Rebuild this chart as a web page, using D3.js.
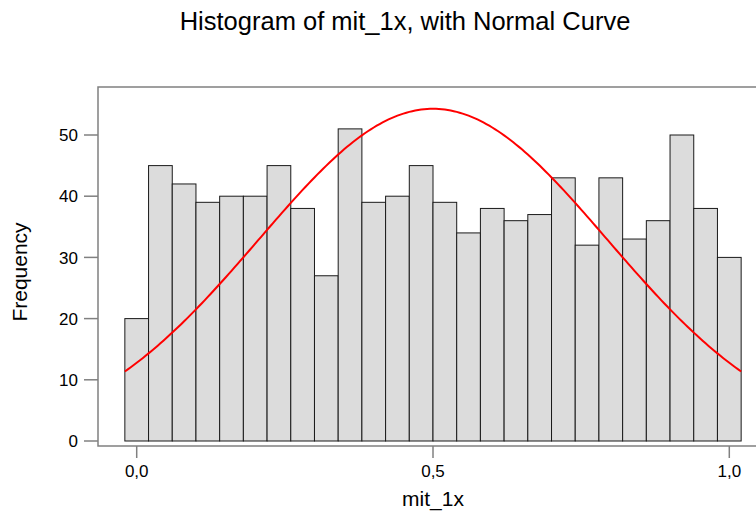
<!DOCTYPE html>
<html>
<head>
<meta charset="utf-8">
<script src="https://cdn.jsdelivr.net/npm/d3@7"></script>
<style>
  body { margin: 0; background: #fff; }
  text { font-family: "Liberation Sans", Arial, sans-serif; fill: #000; }
</style>
</head>
<body>
<div id="chart"></div>
<script>
// histogram bins (bin centres) and counts
var binCenters = [0.00, 0.04, 0.08, 0.12, 0.16, 0.20, 0.24, 0.28, 0.32, 0.36, 0.40, 0.44, 0.48,
                  0.52, 0.56, 0.60, 0.64, 0.68, 0.72, 0.76, 0.80, 0.84, 0.88, 0.92, 0.96, 1.00];
var counts = [20, 45, 42, 39, 40, 40, 45, 38, 27, 51, 39, 40, 45,
              39, 34, 38, 36, 37, 43, 32, 43, 33, 36, 50, 38, 30];
var binWidth = 0.04;

// normal curve parameters
var curveMean = 0.5,
    curveSd = 0.294;

var xTicks = [0, 0.5, 1];
var xTickLabels = ["0,0", "0,5", "1,0"];
var yTicks = [0, 10, 20, 30, 40, 50];

var width = 756, height = 513;

// the plot frame
var frame = {left: 98, top: 87, bottom: 446};

var svg = d3.select("#chart")
  .append("svg")
    .attr("width", width)
    .attr("height", height);

var xScale = d3.scaleLinear()
    .domain([0, 1])
    .range([136.7, 729.3]);

var yScale = d3.scaleLinear()
    .domain([0, 50])
    .range([441, 135]);

// frame (right side runs off the picture)
svg.append("path")
    .attr("d", "M" + (width + 10) + "," + frame.top + "H" + frame.left + "V" + frame.bottom + "H" + (width + 10))
    .attr("fill", "none")
    .attr("stroke", "#808080")
    .attr("stroke-width", 1.5);

// bars
svg.append("g").selectAll("rect")
  .data(counts)
  .enter().append("rect")
    .attr("x", function(d, i) { return xScale(binCenters[i] - binWidth / 2); })
    .attr("width", function(d, i) { return xScale(binCenters[i] + binWidth / 2) - xScale(binCenters[i] - binWidth / 2); })
    .attr("y", function(d) { return yScale(d); })
    .attr("height", function(d) { return yScale(0) - yScale(d); })
    .attr("fill", "#dcdcdc")
    .attr("stroke", "#1a1a1a")
    .attr("stroke-width", 1);

// normal curve scaled to counts
var n = d3.sum(counts);
var xs = d3.range(binCenters[0] - binWidth / 2, binCenters[binCenters.length - 1] + binWidth / 2 + 1e-9, 0.005);
var curve = xs.map(function(x) {
  var z = (x - curveMean) / curveSd;
  return {x: x, y: n * binWidth * Math.exp(-0.5 * z * z) / (curveSd * Math.sqrt(2 * Math.PI))};
});

var valueline = d3.line()
    .x(function(d) { return xScale(d.x); })
    .y(function(d) { return yScale(d.y); });

svg.append("path")
    .attr("d", valueline(curve))
    .attr("fill", "none")
    .attr("stroke", "#ff0000")
    .attr("stroke-width", 2);

// y axis ticks + labels
var yAxis = svg.append("g");
yAxis.selectAll("line")
  .data(yTicks)
  .enter().append("line")
    .attr("x1", 84).attr("x2", frame.left)
    .attr("y1", function(d) { return yScale(d); })
    .attr("y2", function(d) { return yScale(d); })
    .attr("stroke", "#808080")
    .attr("stroke-width", 1.5);
yAxis.selectAll("text")
  .data(yTicks)
  .enter().append("text")
    .attr("x", 78)
    .attr("y", function(d) { return yScale(d); })
    .attr("dy", "0.36em")
    .attr("text-anchor", "end")
    .style("font-size", "17px")
    .text(function(d) { return d; });

// x axis ticks + labels
var xAxis = svg.append("g");
xAxis.selectAll("line")
  .data(xTicks)
  .enter().append("line")
    .attr("x1", function(d) { return xScale(d); })
    .attr("x2", function(d) { return xScale(d); })
    .attr("y1", frame.bottom).attr("y2", 458)
    .attr("stroke", "#808080")
    .attr("stroke-width", 1.5);
xAxis.selectAll("text")
  .data(xTicks)
  .enter().append("text")
    .attr("x", function(d) { return xScale(d); })
    .attr("y", 477)
    .attr("text-anchor", "middle")
    .style("font-size", "17px")
    .text(function(d, i) { return xTickLabels[i]; });

// titles
svg.append("text")
    .attr("x", 405)
    .attr("y", 30)
    .attr("text-anchor", "middle")
    .style("font-size", "25.5px")
    .text("Histogram of mit_1x, with Normal Curve");

svg.append("text")
    .attr("x", 433)
    .attr("y", 506)
    .attr("text-anchor", "middle")
    .style("font-size", "21px")
    .text("mit_1x");

svg.append("text")
    .attr("transform", "translate(27,272) rotate(-90)")
    .attr("text-anchor", "middle")
    .style("font-size", "21px")
    .text("Frequency");
</script>
</body>
</html>
